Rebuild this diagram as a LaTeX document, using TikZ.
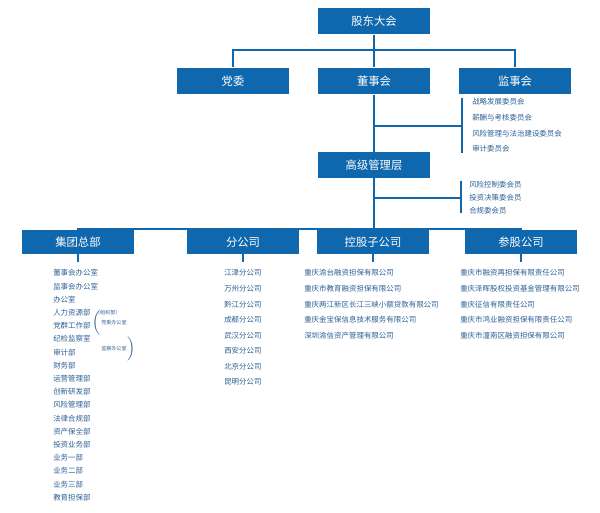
\documentclass[tikz,border=0pt]{standalone}
\usepackage{fontspec}
\setmainfont{Noto Sans CJK SC}
\usetikzlibrary{positioning}
\definecolor{orgblue}{HTML}{0F67AE}
\definecolor{itemblue}{HTML}{2B5E94}

\begin{document}
\begin{tikzpicture}[x=0.75pt,y=-0.75pt,
    unitbox/.style={fill=orgblue, text=white, minimum width=84pt, minimum height=20pt, inner sep=0pt, font=\fontsize{8.5}{9}\selectfont},
    lowbox/.style={unitbox, minimum height=18pt},
    item/.style={text=itemblue, anchor=west, inner sep=0pt, font=\fontsize{5.6}{6}\selectfont},
    tiny/.style={text=itemblue, anchor=west, inner sep=0pt, font=\fontsize{3.8}{4.2}\selectfont},
    link/.style={draw=orgblue, line width=1.1pt}]

    \useasboundingbox (0,0) rectangle (600,513);

    % Top levels
    \node[unitbox] (gd) at (374,21) {股东大会};
    \node[unitbox] (dw) at (233,81) {党委};
    \node[unitbox] (dsh) at (374,81) {董事会};
    \node[unitbox] (jsh) at (515,81) {监事会};
    \node[unitbox, minimum height=19.5pt] (gj) at (374,165) {高级管理层};

    \coordinate (bus1) at (374,50);
    \draw[link] (gd) -- (bus1);
    \draw[link] (dw.north) |- (bus1) -| (jsh.north);
    \draw[link] (bus1) -- (dsh.north);
    \draw[link] (dsh) -- (gj);

    % Board committees
    \coordinate (br1a) at (462,98);
    \coordinate (br1b) at (462,153);
    \draw[link] (br1a) -- (br1b);
    \draw[link] (374,126) -- (462,126);
    \foreach \t [count=\i] in {战略发展委员会,薪酬与考核委员会,风险管理与法治建设委员会,审计委员会}
        \node[item] (c\i) at (472,{102+15.6*(\i-1)}) {\t};

    % Management committees
    \coordinate (br2a) at (461,181);
    \coordinate (br2b) at (461,213);
    \draw[link] (br2a) -- (br2b);
    \draw[link] (374,198) -- (461,198);
    \foreach \t [count=\i] in {风险控制委会员,投资决策委会员,合规委会员}
        \node[item] (m\i) at (469,{185+12.8*(\i-1)}) {\t};

    % Bottom row
    \node[lowbox] (jt) at (78,242) {集团总部};
    \node[lowbox] (fg) at (243,242) {分公司};
    \node[lowbox] (kg) at (373,242) {控股子公司};
    \node[lowbox] (cg) at (521,242) {参股公司};

    \coordinate (bus2) at (374,229);
    \draw[link] (gj) -- (bus2);
    \draw[link] (jt.north) |- (bus2) -| (cg.north);
    \draw[link] (fg.north) -- ++(0,-1);
    \draw[link] (kg.north) -- ++(0,-1);
    \foreach \b in {jt,fg,kg,cg}
        \draw[link, line width=0.9pt] (\b.south) -- ++(0,8);

    % Lists
    \foreach \t [count=\i] in {董事会办公室,监事会办公室,办公室,人力资源部,党群工作部,纪检监察室,审计部,财务部,运营管理部,创新研发部,风险管理部,法律合规部,资产保全部,投资业务部,业务一部,业务二部,业务三部,教育担保部}
        \node[item] (h\i) at (53,{273+13.2*(\i-1)}) {\t};
    \node[tiny, right=3pt of h4] (h4a) {（组织部）};
    \node[tiny, right=1pt of h5, yshift=2pt] (h5a) {\big(\,党委办公室};
    \node[tiny, below=1.2pt of h5a.south west, anchor=north west] (h5b) {\phantom{\big(\,}监察办公室\,\big)};

    \foreach \t [count=\i] in {江津分公司,万州分公司,黔江分公司,成都分公司,武汉分公司,西安分公司,北京分公司,昆明分公司}
        \node[item] (f\i) at (224,{273+15.6*(\i-1)}) {\t};

    \foreach \t [count=\i] in {重庆渝台融资担保有限公司,重庆市教育融资担保有限公司,重庆两江新区长江三峡小额贷款有限公司,重庆金宝保信息技术服务有限公司,深圳渝信资产管理有限公司}
        \node[item] (k\i) at (304,{273+15.6*(\i-1)}) {\t};

    \foreach \t [count=\i] in {重庆市融资再担保有限责任公司,重庆泽晖股权投资基金管理有限公司,重庆征信有限责任公司,重庆市鸿业融资担保有限责任公司,重庆市潼南区融资担保有限公司}
        \node[item] (p\i) at (460,{273+15.6*(\i-1)}) {\t};
\end{tikzpicture}
\end{document}
